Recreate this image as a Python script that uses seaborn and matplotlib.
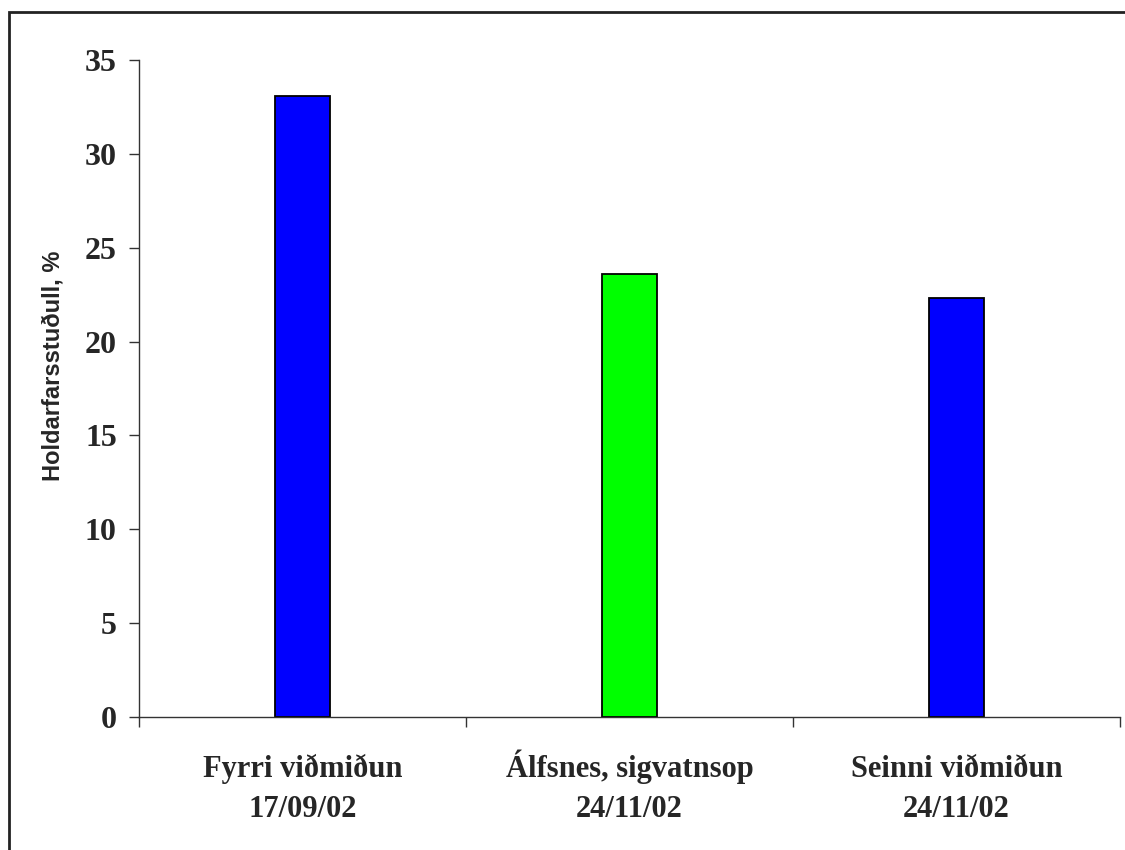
import matplotlib
matplotlib.use("Agg")
import matplotlib.pyplot as plt
import seaborn as sns
import pandas as pd
from matplotlib.patches import Rectangle
from matplotlib.ticker import FixedLocator

categories = ["Fyrri viðmiðun\n17/09/02", "Álfsnes, sigvatnsop\n24/11/02", "Seinni viðmiðun\n24/11/02"]
values = [33.1, 23.6, 22.3]
colors = ["#0000FF", "#00FF00", "#0000FF"]
yticks = [0, 5, 10, 15, 20, 25, 30, 35]
ylabel = "Holdarfarsstuðull, %"

sns.set_style("white")
df = pd.DataFrame({"cat": categories, "val": values})

fig = plt.figure(figsize=(11.25, 8.5), dpi=100)
ax = fig.add_axes([139/1125, 133/850, (1120-139)/1125, (717-60)/850])

sns.barplot(data=df, x="cat", y="val", hue="cat", palette=colors, width=0.168,
            edgecolor="black", linewidth=1.3, legend=False, ax=ax, saturation=1)

ax.set_xlim(-0.5, 2.5)
ax.set_ylim(0, 35)
ax.set_yticks(yticks)
ax.set_yticklabels([str(t) for t in yticks], family="Liberation Serif", fontweight="bold", fontsize=23)
ax.set_xticks(range(len(categories)))
ax.set_xticklabels(categories, family="Liberation Serif", fontweight="bold", fontsize=22, linespacing=1.52)
ax.xaxis.set_minor_locator(FixedLocator([-0.5, 0.5, 1.5, 2.5]))
ax.tick_params(axis="x", which="major", length=0, pad=72)
ax.tick_params(axis="x", which="minor", length=7, width=1, direction="out", color="#333333", bottom=True)
ax.tick_params(axis="y", length=7, width=1, direction="out", color="#333333", left=True, pad=9)
for lbl in ax.get_xticklabels():
    lbl.set_verticalalignment("baseline")
ax.set_xlabel("")
ax.set_ylabel(ylabel, family="Liberation Sans", fontweight="bold", fontsize=17)
ax.yaxis.set_label_coords((65-139)/981, (717-366)/657)

for s in ["top", "right"]:
    ax.spines[s].set_visible(False)
for s in ["left", "bottom"]:
    ax.spines[s].set_color("#333333")
    ax.spines[s].set_linewidth(1)

fig.patches.append(Rectangle((9/1125, -0.1), 1.2, (850-12)/850 + 0.1, transform=fig.transFigure,
                             fill=False, edgecolor="#222222", linewidth=2, figure=fig))

fig.savefig("out.png", dpi=100)
